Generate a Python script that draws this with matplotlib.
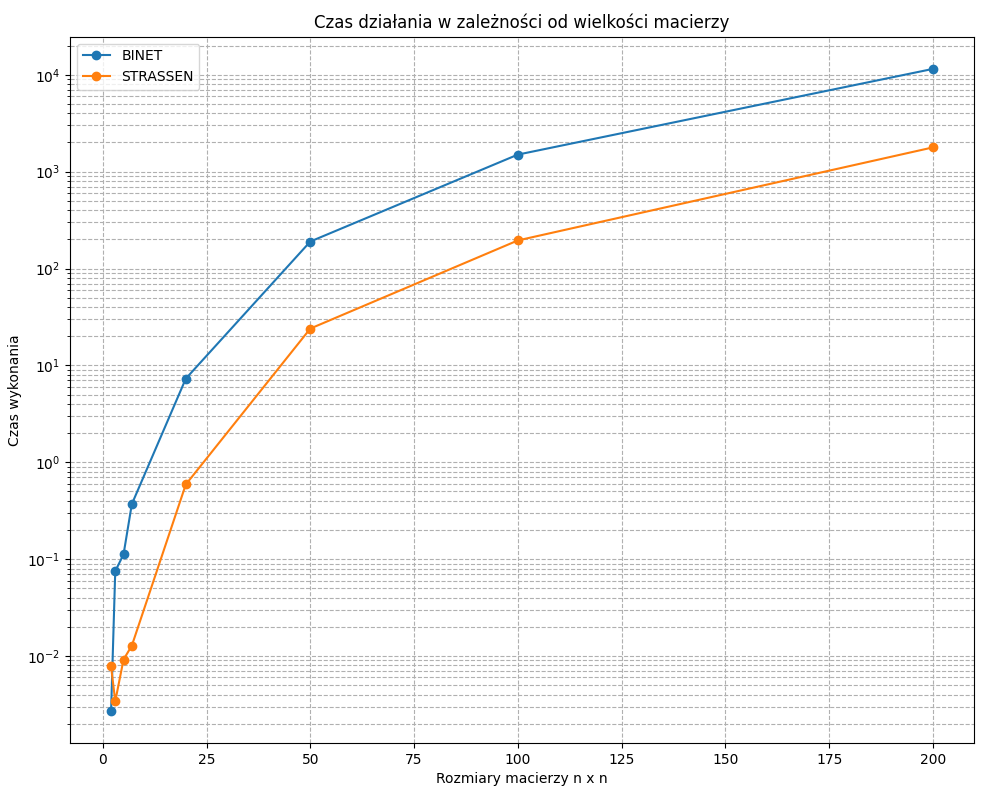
import matplotlib
matplotlib.use("Agg")
import matplotlib.pyplot as plt

sizes = [2, 3, 5, 7, 20, 50, 100, 200]
binet = [0.0027, 0.075, 0.112, 0.37, 7.3, 190, 1500, 11500]
strassen = [0.0078, 0.0034, 0.0092, 0.0128, 0.59, 24, 195, 1780]

fig, ax = plt.subplots(figsize=(10, 8))
ax.plot(sizes, binet, marker="o", label="BINET")
ax.plot(sizes, strassen, marker="o", label="STRASSEN")
ax.set_yscale("log")
ax.set_xlabel("Rozmiary macierzy n x n")
ax.set_ylabel("Czas wykonania")
ax.set_title("Czas działania w zależności od wielkości macierzy")
ax.grid(True, which="both", linestyle="--", linewidth=0.8)
ax.legend(loc="upper left")
fig.subplots_adjust(left=0.07, right=0.974, top=0.954, bottom=0.071)
fig.savefig("out.png", dpi=100)
